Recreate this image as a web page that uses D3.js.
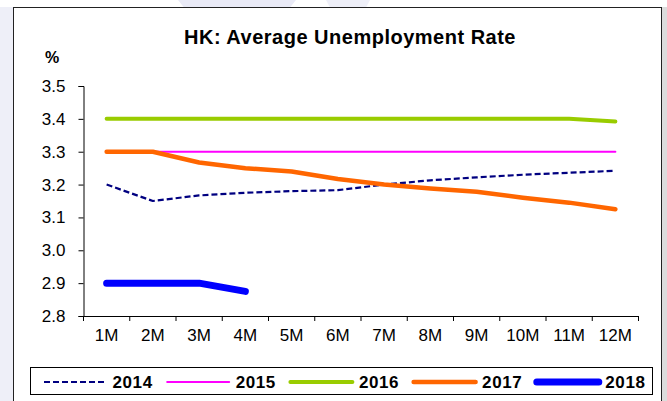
<!DOCTYPE html>
<html>
<head>
<meta charset="utf-8">
<script src="https://cdn.jsdelivr.net/npm/d3@7"></script>
<style>
  html, body { margin: 0; padding: 0; background: #ffffff; }
  svg { display: block; font-family: Arial, "Liberation Sans", Helvetica, sans-serif; }
</style>
</head>
<body>
<svg id="chart" width="667" height="401"></svg>
<script>
// Months on the x axis
const months = ["1M", "2M", "3M", "4M", "5M", "6M", "7M", "8M", "9M", "10M", "11M", "12M"];
// Series names
const years = ["2014", "2015", "2016", "2017", "2018"];
// Year-to-date average unemployment rate (%)
const rate2014 = [3.2, 3.15, 3.167, 3.175, 3.18, 3.183, 3.2, 3.213, 3.222, 3.23, 3.236, 3.242];
const rate2015 = [3.3, 3.3, 3.3, 3.3, 3.3, 3.3, 3.3, 3.3, 3.3, 3.3, 3.3, 3.3];
const rate2016 = [3.4, 3.4, 3.4, 3.4, 3.4, 3.4, 3.4, 3.4, 3.4, 3.4, 3.4, 3.392];
const rate2017 = [3.3, 3.3, 3.267, 3.25, 3.24, 3.217, 3.2, 3.188, 3.178, 3.16, 3.145, 3.125];
const rate2018 = [2.9, 2.9, 2.9, 2.875];
// Y axis tick values
const yTicks = [2.8, 2.9, 3.0, 3.1, 3.2, 3.3, 3.4, 3.5];

const seriesValues = [rate2014, rate2015, rate2016, rate2017, rate2018];

// Line styling per series
const seriesStyle = [
  { color: "#000080", width: 2.2, dash: "6,3" },
  { color: "#ff00ff", width: 2,   dash: null },
  { color: "#99cc00", width: 4,   dash: null },
  { color: "#ff6600", width: 4.5, dash: null },
  { color: "#0000ff", width: 7,   dash: null }
];

const svg = d3.select("#chart");

// Backdrop: lavender page edge, faint decorative shapes, white chart panel
svg.append("rect").attr("x", 0).attr("y", 0).attr("width", 667).attr("height", 401).attr("fill", "#ffffff");
svg.append("rect").attr("x", 0).attr("y", 7).attr("width", 13.5).attr("height", 394).attr("fill", "#eeeff8");
svg.append("path").attr("d", "M178,0 L296,0 L290,7.5 L184,7.5 Z").attr("fill", "#e9eaf6");
svg.append("path").attr("d", "M326,0 L370,0 L366,7.5 L330,7.5 Z").attr("fill", "#eeeff8");
svg.append("rect").attr("x", 662).attr("y", 7).attr("width", 5).attr("height", 394).attr("fill", "#dcdcdc");
svg.append("rect")
  .attr("x", 13.5).attr("y", 7.5).attr("width", 648).attr("height", 400)
  .attr("fill", "#ffffff").attr("stroke", "#222").attr("stroke-width", 1);

// Scales
const x = d3.scaleBand().domain(months).range([83.5, 638.5]).paddingInner(0).paddingOuter(0);
const y = d3.scaleLinear().domain([2.8, 3.5]).range([316, 86]);
const xc = m => x(m) + x.bandwidth() / 2;

// Title and unit
svg.append("text")
  .attr("x", 350).attr("y", 44)
  .attr("text-anchor", "middle")
  .attr("font-size", 20).attr("font-weight", "bold")
  .attr("letter-spacing", 0.5)
  .attr("fill", "#000")
  .text("HK: Average Unemployment Rate");

svg.append("text")
  .attr("x", 45).attr("y", 63)
  .attr("font-size", 16).attr("font-weight", "bold")
  .attr("fill", "#000")
  .text("%");

// Y axis
const yAxis = d3.axisLeft(y)
  .tickValues(yTicks)
  .tickSize(5)
  .tickPadding(13)
  .tickFormat(d3.format(".1f"));
const gy = svg.append("g").attr("transform", "translate(83.5,0)").call(yAxis);
gy.select(".domain").attr("stroke", "#000").attr("stroke-width", 1);
gy.selectAll(".tick line").attr("stroke", "#000");
gy.selectAll(".tick text").attr("font-size", 17).attr("fill", "#000").attr("font-family", "Arial, 'Liberation Sans', sans-serif");

// X axis: labels centred in each month band, ticks on band boundaries
const xAxis = d3.axisBottom(x).tickSize(0).tickPadding(13);
const gx = svg.append("g").attr("transform", "translate(0,316)").call(xAxis);
gx.select(".domain").attr("stroke", "#000").attr("stroke-width", 1);
gx.selectAll(".tick text").attr("font-size", 17).attr("fill", "#000").attr("font-family", "Arial, 'Liberation Sans', sans-serif");

const boundaries = months.map(m => x(m)).concat([x.range()[1]]);
svg.append("g").selectAll("line")
  .data(boundaries)
  .join("line")
  .attr("x1", d => d).attr("x2", d => d)
  .attr("y1", 316).attr("y2", 321)
  .attr("stroke", "#000").attr("stroke-width", 1);

// Series lines
const line = d3.line()
  .x((d, i) => xc(months[i]))
  .y(d => y(d));

const gLines = svg.append("g");
seriesValues.forEach((vals, k) => {
  const st = seriesStyle[k];
  gLines.append("path")
    .datum(vals)
    .attr("d", line)
    .attr("fill", "none")
    .attr("stroke", st.color)
    .attr("stroke-width", st.width)
    .attr("stroke-dasharray", st.dash)
    .attr("stroke-linecap", st.dash ? "butt" : "round")
    .attr("stroke-linejoin", "round");
});

// Legend
svg.append("rect")
  .attr("x", 30.5).attr("y", 367.5).attr("width", 622).attr("height", 27)
  .attr("fill", "#ffffff").attr("stroke", "#000").attr("stroke-width", 1);

const legendStart = 44, legendStep = 123.2, legendLine = 62, legendY = 382;
const lg = svg.append("g").selectAll("g")
  .data(years)
  .join("g")
  .attr("transform", (d, i) => `translate(${legendStart + i * legendStep},${legendY})`);

lg.append("line")
  .attr("x1", 0).attr("x2", legendLine)
  .attr("y1", 0).attr("y2", 0)
  .attr("stroke", (d, i) => seriesStyle[i].color)
  .attr("stroke-width", (d, i) => seriesStyle[i].width)
  .attr("stroke-dasharray", (d, i) => seriesStyle[i].dash)
  .attr("stroke-linecap", (d, i) => seriesStyle[i].dash ? "butt" : "round");

lg.append("text")
  .attr("x", legendLine + 6.5).attr("y", 6)
  .attr("font-size", 17).attr("font-weight", "bold")
  .attr("letter-spacing", 0.6)
  .attr("fill", "#000")
  .text(d => d);
</script>
</body>
</html>
